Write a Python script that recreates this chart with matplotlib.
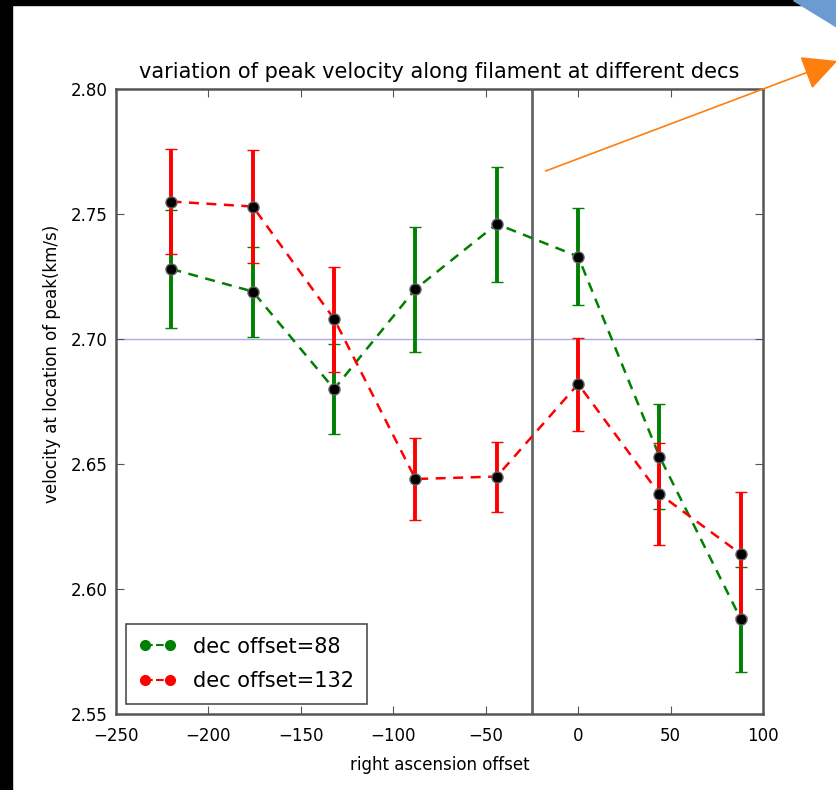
import matplotlib.pyplot as plt
from matplotlib.lines import Line2D
from matplotlib.patches import Rectangle, Polygon, FancyArrowPatch

# data
ra_offset = [-220, -176, -132, -88, -44, 0, 44, 88]

vel_88 = [2.728, 2.719, 2.680, 2.720, 2.746, 2.733, 2.653, 2.588]
err_88 = [0.0235, 0.018, 0.018, 0.025, 0.023, 0.0195, 0.021, 0.021]

vel_132 = [2.755, 2.753, 2.708, 2.644, 2.645, 2.682, 2.638, 2.614]
err_132 = [0.021, 0.0225, 0.021, 0.0165, 0.014, 0.0186, 0.0205, 0.025]

labels = ['dec offset=88', 'dec offset=132']
colors = ['green', 'red']

ref_velocity = 2.70
ra_split = -25

fig = plt.figure(figsize=(8.37, 7.90), dpi=100)
ax = fig.add_axes([0.1386, 0.0962, 0.773, 0.7911])

ax.axhline(ref_velocity, color='#8888dd', lw=1, alpha=0.7, zorder=1)
ax.axvline(ra_split, color='#666666', lw=2, zorder=1)

for vel, err, c in [(vel_88, err_88, colors[0]), (vel_132, err_132, colors[1])]:
    ax.errorbar(ra_offset, vel, yerr=err, fmt='none', ecolor=c,
                elinewidth=2.8, capsize=4, capthick=1, zorder=2)
    ax.plot(ra_offset, vel, '--', color=c, lw=1.8, dashes=(4, 3), zorder=2)
    # black markers on top of the points
    ax.plot(ra_offset, vel, 'o', color='black', mec='#666666', ms=8, zorder=3)

ax.set_xlim(-250, 100)
ax.set_ylim(2.55, 2.80)
ax.set_yticks([2.55, 2.60, 2.65, 2.70, 2.75, 2.80])
ax.set_yticklabels(['2.55', '2.60', '2.65', '2.70', '2.75', '2.80'])
ax.tick_params(labelsize=12, direction='in', length=6, color='#555555',
               top=True, right=True)
ax.tick_params(axis='x', pad=9)
ax.tick_params(axis='y', pad=6)
for s in ax.spines.values():
    s.set_color('#555555')
    s.set_linewidth(1.8)

ax.set_title('variation of peak velocity along filament at different decs',
             fontsize=15, pad=8)
ax.set_xlabel('right ascension offset', fontsize=12, labelpad=8)
ax.set_ylabel('velocity at location of peak(km/s)', fontsize=12)
ax.yaxis.set_label_coords(-0.085, 0.56)

handles = [Line2D([], [], color=c, ls='--', marker='o', ms=7, lw=1.5)
           for c in colors]
leg = ax.legend(handles, labels, loc='lower left', fontsize=15,
                fancybox=False, numpoints=2, handlelength=1.8,
                borderpad=0.6, labelspacing=0.7,
                bbox_to_anchor=(0.0, 0.0))
leg.get_frame().set_edgecolor('#222222')
leg.get_frame().set_linewidth(1.2)

# black frame bands and the overlay shapes from the screenshot
fig.patches.append(Rectangle((0, 0), 12 / 837, 1, transform=fig.transFigure,
                             color='black', zorder=10))
fig.patches.append(Rectangle((0, 1 - 5 / 790), 1, 5 / 790,
                             transform=fig.transFigure, color='black', zorder=10))
fig.patches.append(Polygon([(793 / 837, 1), (1, 1), (1, 1 - 27 / 790)],
                           closed=True, transform=fig.transFigure,
                           color='#6b9bd1', zorder=11))
fig.patches.append(FancyArrowPatch((543 / 837, 1 - 172 / 790),
                                   (840 / 837, 1 - 60 / 790),
                                   transform=fig.transFigure,
                                   arrowstyle='-|>', mutation_scale=55,
                                   color='#ff7f0e', lw=1.2, zorder=11))

fig.savefig('out.png', dpi=100)
